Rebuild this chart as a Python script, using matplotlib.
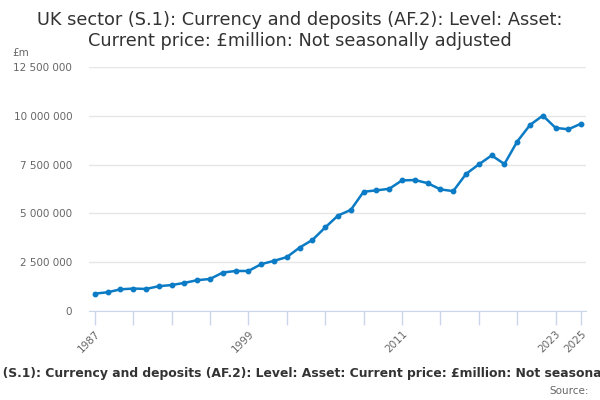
import matplotlib
matplotlib.use("Agg")
import matplotlib.pyplot as plt
from matplotlib.ticker import FuncFormatter

years = list(range(1987, 2026))
values = [0.89, 0.96, 1.11, 1.15, 1.13, 1.27, 1.33, 1.44, 1.58, 1.64,
          1.97, 2.05, 2.05, 2.40, 2.57, 2.76, 3.25, 3.64, 4.28, 4.89,
          5.18, 6.11, 6.18, 6.26, 6.69, 6.71, 6.55, 6.23, 6.14, 7.02,
          7.51, 7.97, 7.53, 8.68, 9.53, 10.01, 9.38, 9.31, 9.60]
values = [v * 1e6 for v in values]

tick_years = list(range(1987, 2024, 3)) + [2025]
label_years = [1987, 1999, 2011, 2023, 2025]
y_ticks = [0, 2.5e6, 5e6, 7.5e6, 10e6, 12.5e6]

title = "UK sector (S.1): Currency and deposits (AF.2): Level: Asset:\nCurrent price: £million: Not seasonally adjusted"
series_name = "UK sector (S.1): Currency and deposits (AF.2): Level: Asset: Current price: £million: Not seasonally adjusted"

fig = plt.figure(figsize=(6, 4), dpi=100)
ax = fig.add_axes([0.148, 0.2225, 0.829, 0.61])

ax.plot(years, values, color="#0a7bc4", lw=1.8, marker="o", markersize=3.2, zorder=3)

ax.set_xlim(1986.53, 2025.39)
ax.set_ylim(0, 12.5e6)
ax.set_yticks(y_ticks)
ax.yaxis.set_major_formatter(FuncFormatter(lambda v, p: f"{int(v):,}".replace(",", " ")))
ax.set_xticks(tick_years)
ax.set_xticklabels([str(y) if y in label_years else "" for y in tick_years],
                   rotation=45, ha="right", rotation_mode="anchor")

ax.grid(axis="y", color="#e6e6e6", lw=1)
ax.set_axisbelow(True)
for s in ["top", "right", "left"]:
    ax.spines[s].set_visible(False)
ax.spines["bottom"].set_color("#ccd6eb")
ax.tick_params(axis="x", colors="#ccd6eb", length=10, width=1, labelcolor="#666666",
               labelsize=7.5, pad=3)
ax.tick_params(axis="y", length=0, labelcolor="#666666", labelsize=7.5, pad=12)

fig.text(0.5, 0.972, title, ha="center", va="top", fontsize=12.8, color="#333333",
         linespacing=1.2)
fig.text(0.02, 0.868, "£m", fontsize=7.5, color="#666666", va="center")
fig.text(0.512, 0.0675, series_name, ha="center", va="center", fontsize=8.9,
         fontweight="bold", color="#333333")
fig.text(0.982, 0.0225, "Source:", ha="right", va="center", fontsize=7.5, color="#666666")

fig.savefig("out.png", dpi=100)
